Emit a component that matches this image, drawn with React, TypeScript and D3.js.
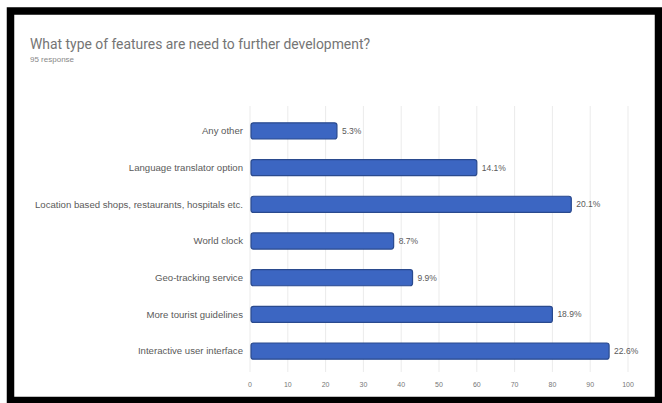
import React from "react";
import * as d3 from "d3";

const categories = [
  "Any other",
  "Language translator option",
  "Location based shops, restaurants, hospitals etc.",
  "World clock",
  "Geo-tracking service",
  "More tourist guidelines",
  "Interactive user interface",
];
const counts = [23, 60, 85, 38, 43, 80, 95];
const percentLabels = ["5.3%", "14.1%", "20.1%", "8.7%", "9.9%", "18.9%", "22.6%"];
const xTicks = [0, 10, 20, 30, 40, 50, 60, 70, 80, 90, 100];
const title = "What type of features are need to further development?";
const subtitle = "95 response";

const W = 662;
const H = 403;

export default function App() {
  const x = d3.scaleLinear().domain([0, 100]).range([250, 628]);
  const y = d3
    .scaleBand<string>()
    .domain(categories)
    .range([112.6, 369.4])
    .paddingInner(0.56)
    .paddingOuter(0.28);
  const bw = y.bandwidth();
  const font = "'Liberation Sans', Arial, sans-serif";

  return (
    <svg
      width={W}
      height={H}
      style={{ position: "absolute", left: 0, top: 0, background: "#fff" }}
    >
      <rect x={0} y={0} width={W} height={H} fill="#fff" />
      {xTicks.map((t) => (
        <line
          key={"g" + t}
          x1={x(t)}
          x2={x(t)}
          y1={106}
          y2={372}
          stroke="#ebebeb"
          strokeWidth={1}
        />
      ))}
      {categories.map((c, i) => (
        <g key={c}>
          <rect
            x={x(0) + 1}
            y={y(c)!}
            width={x(counts[i]) - x(0) - 1}
            height={bw}
            rx={2.5}
            fill="#3c66c2"
            stroke="#2a4a8e"
            strokeWidth={1.2}
          />
          <text
            x={x(0) - 7}
            y={y(c)! + bw / 2}
            dy="0.35em"
            textAnchor="end"
            fontSize={9.6}
            fontFamily={font}
            fill="#5a5a5a"
          >
            {c}
          </text>
          <text
            x={x(counts[i]) + 5}
            y={y(c)! + bw / 2}
            dy="0.35em"
            fontSize={8.5}
            fontFamily={font}
            fill="#5a5a5a"
          >
            {percentLabels[i]}
          </text>
        </g>
      ))}
      {xTicks.map((t) => (
        <text
          key={"t" + t}
          x={x(t)}
          y={387}
          textAnchor="middle"
          fontSize={7}
          fontFamily={font}
          fill="#777"
        >
          {t}
        </text>
      ))}
      <text
        x={30}
        y={48.5}
        fontSize={15.5}
        fontFamily="Roboto, 'Liberation Sans', sans-serif"
        fill="#757575"
        textLength={340}
        lengthAdjust="spacingAndGlyphs"
      >
        {title}
      </text>
      <text x={30} y={62} fontSize={8} fontFamily={font} fill="#888">
        {subtitle}
      </text>
      <rect
        x={10.5}
        y={11}
        width={648}
        height={389.5}
        fill="none"
        stroke="#000"
        strokeWidth={7.5}
      />
    </svg>
  );
}
